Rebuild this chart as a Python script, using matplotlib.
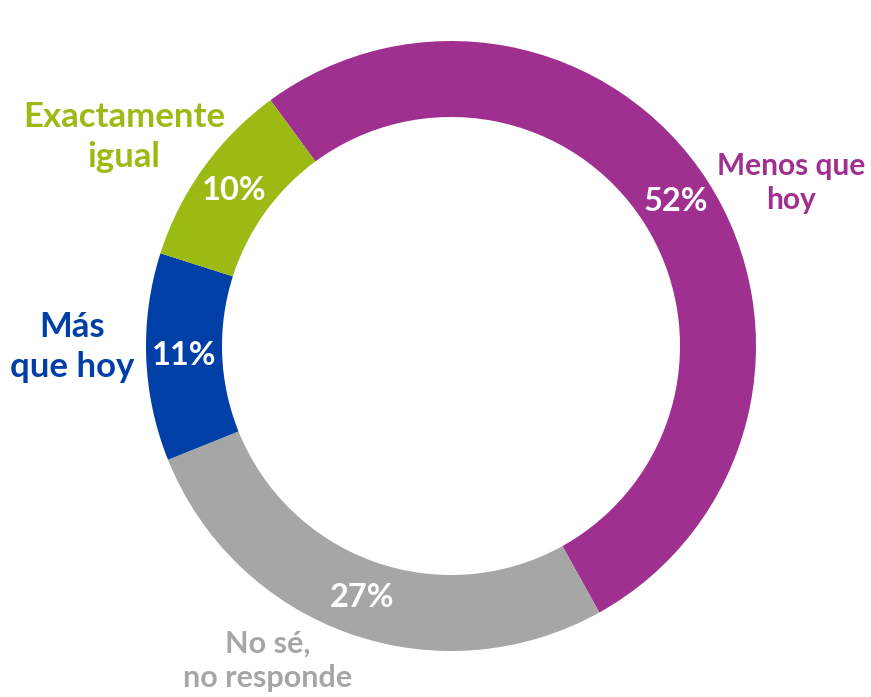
import matplotlib
matplotlib.use("Agg")
import matplotlib.pyplot as plt

#---------datos---------
categorias = ['Menos que hoy', 'No sé, no responde', 'Más que hoy', 'Exactamente igual']
valores = [52, 27, 11, 10]
colores = ['#A03090', '#A6A6A6', '#003FA6', '#9BBB14']
etiquetas = ['Menos que\nhoy', 'No sé,\nno responde', 'Más\nque hoy', 'Exactamente\nigual']

plt.rcParams['font.family'] = ['Lato', 'DejaVu Sans']

fig = plt.figure(figsize=(8.71, 6.97), dpi=100)
ax = fig.add_axes([0, 0, 1, 1])
ax.set_aspect('equal')
ax.axis('off')

# donut: centro y radio en pixeles
wedges, textos, pcts = ax.pie(valores, colors=colores, startangle=126.3,
                              counterclock=False, center=(451, 351), radius=305,
                              wedgeprops=dict(width=76, linewidth=0),
                              autopct='%d%%', pctdistance=0.875,
                              textprops=dict(color='white', fontsize=23.5, fontweight='bold'))
ax.set_xlim(0, 871)
ax.set_ylim(0, 697)

#---------etiquetas---------
pos = [(791, 514), (268, 36), (72, 350), (124, 560)]
tam = [21.5, 22, 25, 25]
for (x, y), txt, c, s in zip(pos, etiquetas, colores, tam):
    ax.text(x, y, txt, color=c, fontsize=s, fontweight='bold',
            ha='center', va='center', linespacing=1.3)

fig.savefig('out.png', dpi=100)
